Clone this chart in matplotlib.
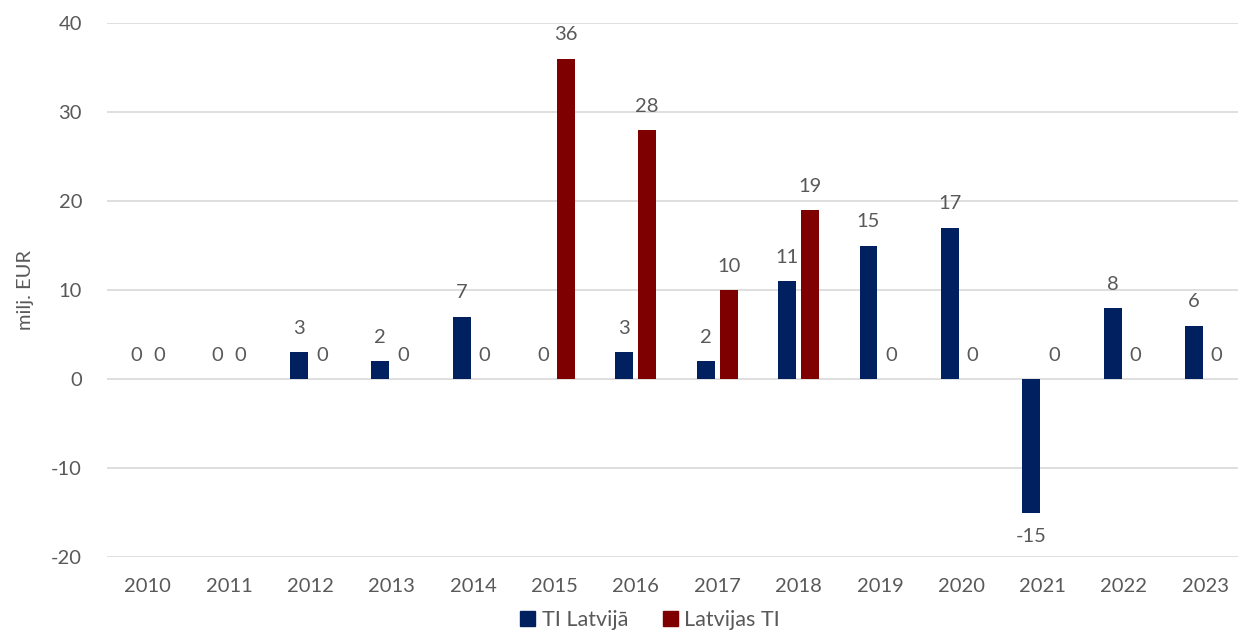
import numpy as np
import matplotlib.pyplot as plt
from matplotlib.patches import Patch

# dati
gadi = ['2010', '2011', '2012', '2013', '2014', '2015', '2016',
        '2017', '2018', '2019', '2020', '2021', '2022', '2023']
ti_latvija = [0, 0, 3, 2, 7, 0, 3, 2, 11, 15, 17, -15, 8, 6]
latvijas_ti = [0, 0, 0, 0, 0, 36, 28, 10, 19, 0, 0, 0, 0, 0]

zils = '#002060'
sarkans = '#7f0000'
teksts = '#595959'

plt.rcParams['font.family'] = ['Lato', 'DejaVu Sans']
plt.rcParams['axes.unicode_minus'] = False

fig = plt.figure(figsize=(12.38, 6.32), dpi=100)
ax = fig.add_axes([107 / 1238, 75 / 632, 1139 / 1238, 534 / 632])

x = np.arange(len(gadi))
w = 0.22
off = 0.14
ax.bar(x - off, ti_latvija, w, color=zils, zorder=3)
ax.bar(x + off, latvijas_ti, w, color=sarkans, zorder=3)

# vertibu etiketes
for i in range(len(gadi)):
    for xv, v in ((x[i] - off, ti_latvija[i]), (x[i] + off, latvijas_ti[i])):
        dy = 11 if v >= 0 else -11
        ax.annotate(str(v), (xv, v), xytext=(0, dy), textcoords='offset points',
                    ha='center', va='bottom' if v >= 0 else 'top',
                    fontsize=14.5, color=teksts)

ax.set_xlim(-0.5, len(gadi) - 0.5)
ax.set_ylim(-20, 40)
ax.set_yticks(range(-20, 41, 10))
ax.set_xticks(x)
ax.set_xticklabels(gadi)
ax.grid(axis='y', color='#d9d9d9', linewidth=1.2, zorder=0)
for s in ax.spines.values():
    s.set_visible(False)
ax.tick_params(axis='both', length=0, labelsize=14.5, colors=teksts)
ax.tick_params(axis='x', pad=15)
ax.tick_params(axis='y', pad=18)
ax.set_ylabel('milj. EUR', fontsize=14.5, color=teksts, labelpad=12)

handles = [Patch(color=zils, label='TI Latvijā'), Patch(color=sarkans, label='Latvijas TI')]
fig.legend(handles=handles, loc='center', bbox_to_anchor=(650 / 1238, 12 / 632),
           ncol=2, frameon=False, fontsize=15.5, labelcolor=teksts,
           handlelength=0.7, handleheight=0.7, handletextpad=0.3, columnspacing=1.6,
           borderpad=0.2)

fig.savefig('out.png', dpi=100)
